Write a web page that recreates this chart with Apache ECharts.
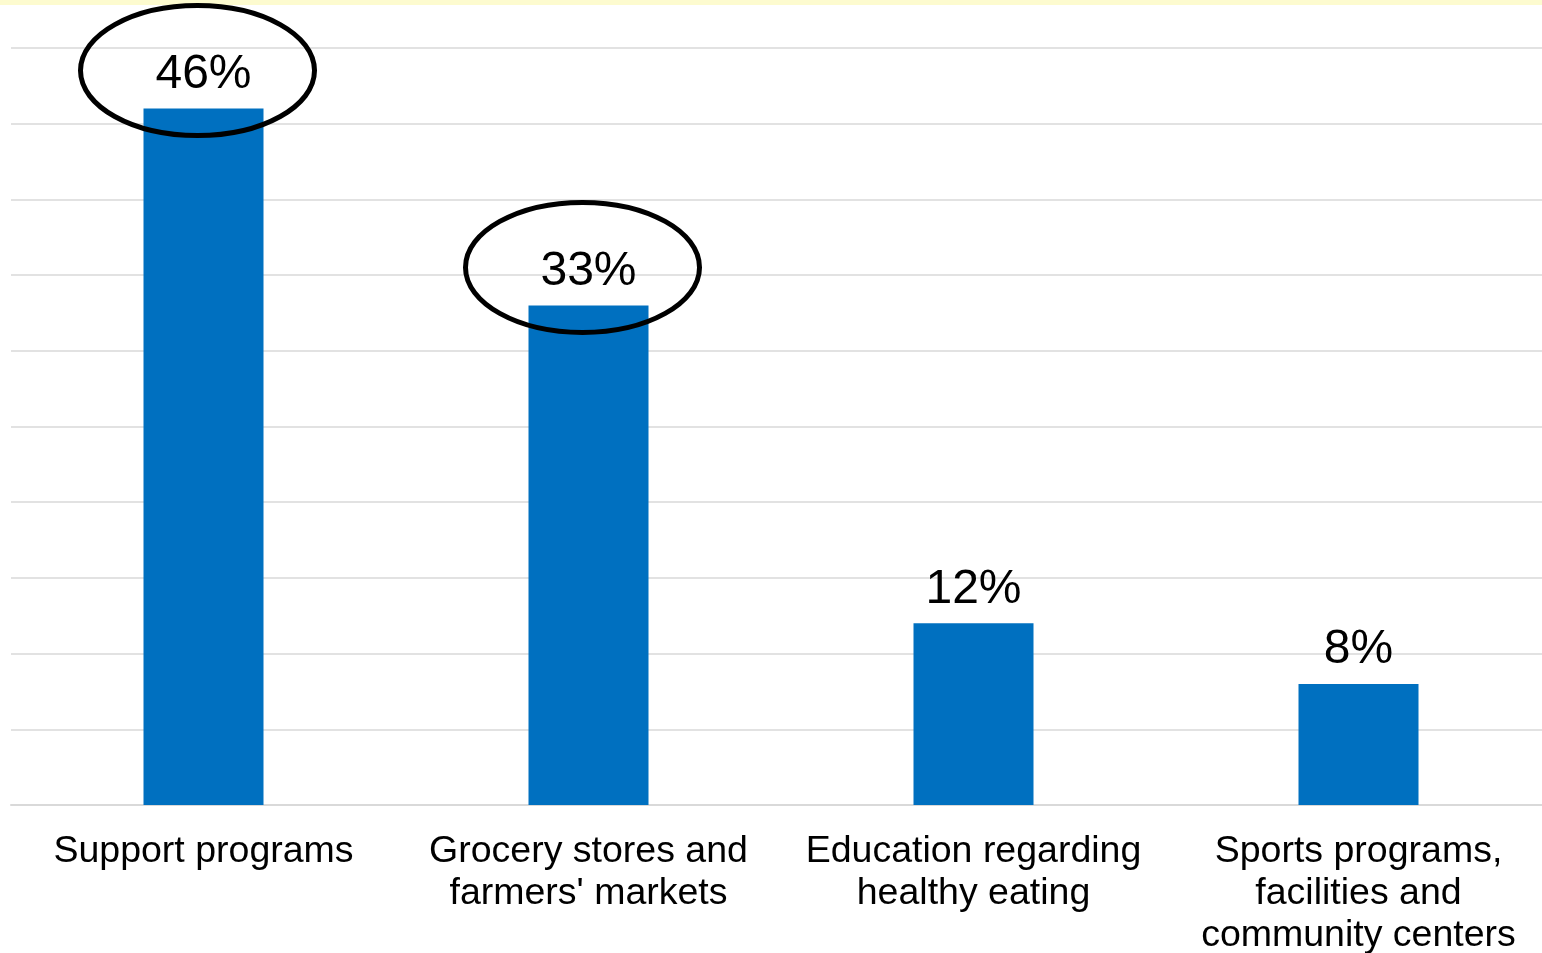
<!DOCTYPE html>
<html>
<head>
<meta charset="utf-8">
<script src="https://cdn.jsdelivr.net/npm/echarts@6/dist/echarts.min.js"></script>
<style>
  html, body { margin: 0; padding: 0; background: #fff; }
  #chart { width: 1542px; height: 953px; }
</style>
</head>
<body>
<div id="chart"></div>
<script>
// Share of respondents by type of community resource
const categories = [
  'Support programs',
  "Grocery stores and\nfarmers' markets",
  'Education regarding\nhealthy eating',
  'Sports programs,\nfacilities and\ncommunity centers'
];
const values = [46, 33, 12, 8];
// Indices of the bars whose labels get circled
const highlighted = [0, 1];

const FONT = '"Liberation Sans", Arial, Helvetica, sans-serif';
const chart = echarts.init(document.getElementById('chart'), null, { renderer: 'canvas' });

chart.setOption({
  animation: false,
  backgroundColor: '#ffffff',
  grid: {
    left: 11, width: 1540, top: 48, height: 757,
    containLabel: false,
    outerBoundsMode: 'none'
  },
  xAxis: {
    type: 'category',
    data: categories,
    axisLine: { show: true, lineStyle: { color: '#d9d9d9', width: 2 } },
    axisTick: { show: false },
    axisLabel: {
      interval: 0,
      color: '#000',
      fontFamily: FONT,
      fontSize: 37.5,
      lineHeight: 42,
      margin: 26
    }
  },
  yAxis: {
    type: 'value',
    min: 0,
    max: 50,
    interval: 5,
    axisLabel: { show: false },
    axisLine: { show: false },
    axisTick: { show: false },
    splitLine: { lineStyle: { color: '#d9d9d9', width: 1.5 } }
  },
  series: [{
    type: 'bar',
    data: values,
    barWidth: 120,
    itemStyle: { color: '#0070C0' },
    label: {
      show: true,
      position: 'top',
      distance: 10,
      formatter: '{c}%',
      color: '#000',
      fontFamily: FONT,
      fontSize: 48
    }
  }]
});

// Yellow header strip and ellipses around the highlighted value labels
function drawOverlays() {
  const elements = [{
    type: 'rect',
    shape: { x: 0, y: 0, width: 1542, height: 5 },
    style: { fill: '#fdfbcf' },
    z: 10
  }];
  highlighted.forEach(function (i) {
    const p = chart.convertToPixel({ seriesIndex: 0 }, [i, values[i]]);
    elements.push({
      type: 'ellipse',
      shape: { cx: p[0] - 6, cy: p[1] - 38, rx: 117, ry: 65 },
      style: { fill: 'none', stroke: '#000', lineWidth: 5 },
      z: 20
    });
  });
  chart.setOption({ graphic: { elements: elements } });
}
drawOverlays();
</script>
</body>
</html>
